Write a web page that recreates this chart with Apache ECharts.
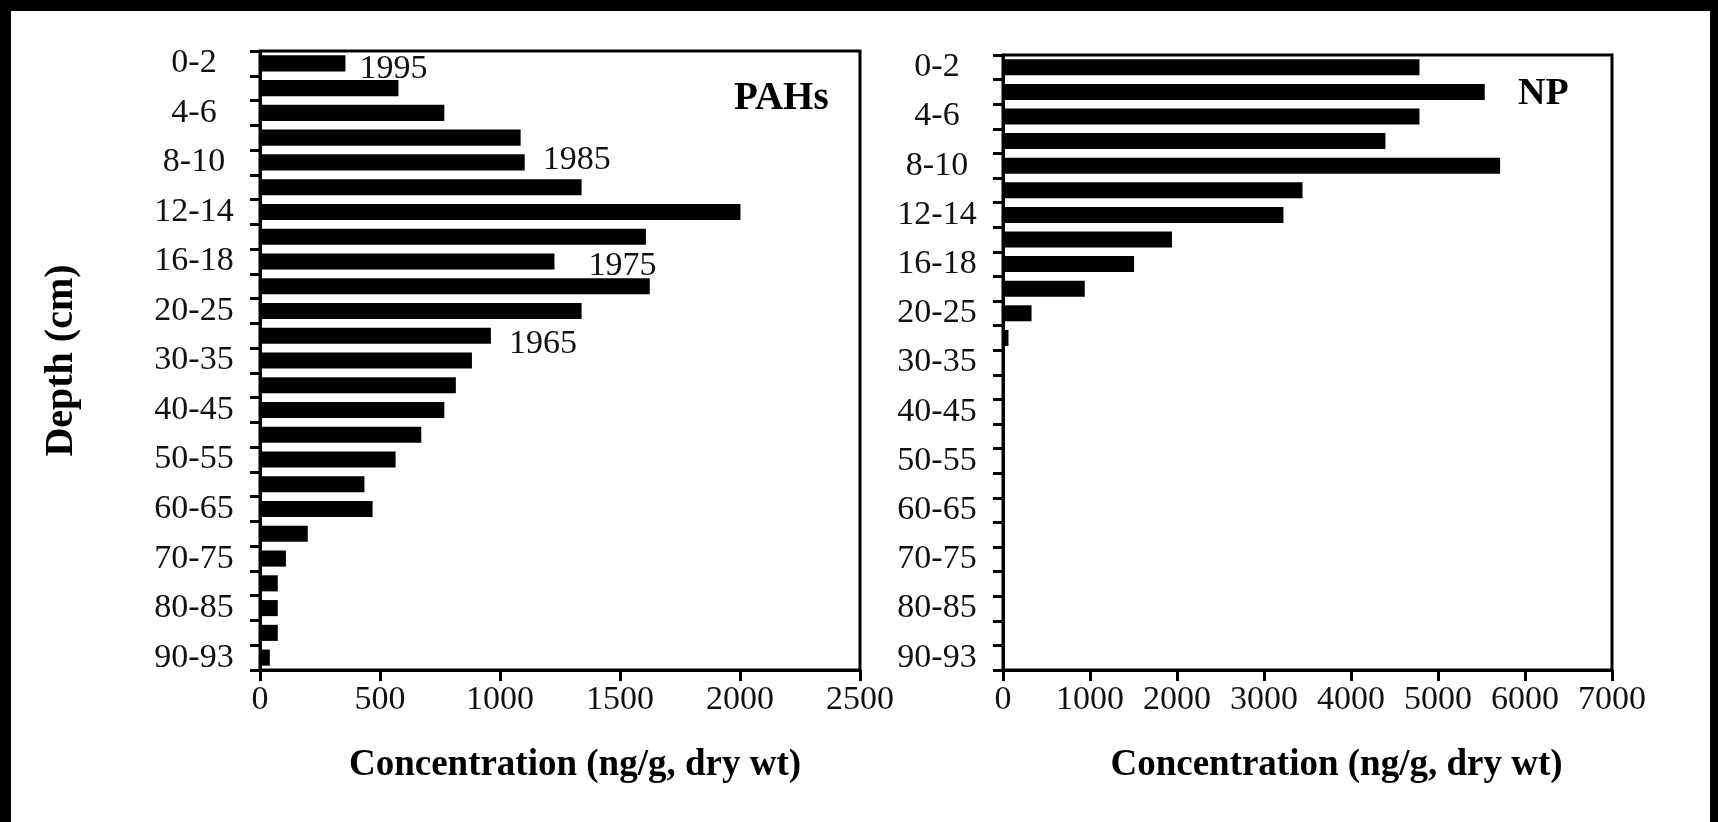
<!DOCTYPE html>
<html><head><meta charset="utf-8">
<script src="https://cdn.jsdelivr.net/npm/echarts@6/dist/echarts.min.js"></script>
<style>html,body{margin:0;padding:0;background:#fff}#c{width:1718px;height:822px}</style>
</head><body><div id="c"></div>
<script>
// Depth intervals (cm), top of core first
const depths = ['0-2','2-4','4-6','6-8','8-10','10-12','12-14','14-16','16-18','18-20','20-25','25-30','30-35','35-40','40-45','45-50','50-55','55-60','60-65','65-70','70-75','75-80','80-85','85-90','90-93'];
// PAHs concentration (ng/g, dry wt)
const pahs = [356,577,768,1086,1103,1340,2002,1608,1227,1624,1340,962,883,816,768,672,565,435,469,199,108,74,74,74,41];
// NP concentration (ng/g, dry wt)
const np = [4787,5537,4787,4396,5714,3443,3223,1942,1507,940,328,63,0,0,0,0,0,0,0,0,0,0,0,0,0];
// x-axis tick values
const pahsTicks = [0,500,1000,1500,2000,2500];
const npTicks = [0,1000,2000,3000,4000,5000,6000,7000];
// dating annotations: [depth category, year]
const years = [['0-2','1995'],['8-10','1985'],['16-18','1975'],['25-30','1965']];
const yearOffsets = [[14,6],[18,-2],[34,5],[18,8]];
// panel titles
const panelNames = ['PAHs','NP'];
const xTitle = 'Concentration (ng/g, dry wt)';
const yTitle = 'Depth (cm)';

const FONT = 'Liberation Serif';
const black = '#000';

function xAxisCfg(idx, ticks){
  return {
    type:'value', gridIndex:idx, min:ticks[0], max:ticks[ticks.length-1], interval:ticks[1]-ticks[0],
    splitLine:{show:false},
    axisLine:{show:true, lineStyle:{color:black,width:3}},
    axisTick:{show:true, inside:false, length:11, lineStyle:{color:black,width:3}},
    axisLabel:{fontSize:34, fontFamily:FONT, color:'#111', margin:13, formatter:v=>String(v)},
    name:xTitle, nameLocation:'middle', nameGap:77,
    nameTextStyle:{fontSize:37, fontWeight:'bold', fontFamily:FONT, color:black, padding:[0,0,0,idx===0?30:58]}
  };
}
function yAxisCfg(idx, withName){
  const c = {
    type:'category', gridIndex:idx, data:depths, inverse:true,
    axisLine:{show:true, lineStyle:{color:black,width:3}},
    axisTick:{show:true, interval:0, length:10, lineStyle:{color:black,width:3}},
    axisLabel:{interval:1, fontSize:34, fontFamily:FONT, color:'#111', margin:66, align:'center'},
    splitLine:{show:false}
  };
  if(withName){
    c.name = yTitle; c.nameLocation='middle'; c.nameGap=178;
    c.nameTextStyle = {fontSize:40, fontWeight:'bold', fontFamily:FONT, color:black};
  }
  return c;
}

const chart = echarts.init(document.getElementById('c'), null, {renderer:'canvas'});
const pahsIdx = years.map(y=>depths.indexOf(y[0]));
chart.setOption({
  backgroundColor:'#fff',
  animation:false,
  title:[
    {text:panelNames[0], left:729, top:74, textStyle:{fontSize:39, fontWeight:'bold', fontFamily:FONT, color:black}},
    {text:panelNames[1], left:1513, top:70, textStyle:{fontSize:38, fontWeight:'bold', fontFamily:FONT, color:black}}
  ],
  grid:[
    {left:260, top:51, width:600, height:619, show:true, borderColor:black, borderWidth:3, backgroundColor:'transparent'},
    {left:1003, top:55, width:609, height:615, show:true, borderColor:black, borderWidth:3, backgroundColor:'transparent'}
  ],
  xAxis:[xAxisCfg(0,pahsTicks), xAxisCfg(1,npTicks)],
  yAxis:[yAxisCfg(0,true), yAxisCfg(1,false)],
  series:[
    {type:'bar', xAxisIndex:0, yAxisIndex:0, data:pahs, barCategoryGap:'35%', itemStyle:{color:black},
     markPoint:{symbol:'circle', symbolSize:0,
       data: years.map((y,i)=>({coord:[pahs[pahsIdx[i]], y[0]], value:y[1],
         label:{show:true, position:'right', distance:0, offset:yearOffsets[i], formatter:y[1],
                fontSize:34, fontFamily:FONT, color:'#111'}}))}},
    {type:'bar', xAxisIndex:1, yAxisIndex:1, data:np, barCategoryGap:'35%', itemStyle:{color:black}}
  ],
  graphic:[
    {type:'rect', shape:{x:0,y:0,width:11,height:822}, style:{fill:black}, silent:true},
    {type:'rect', shape:{x:0,y:0,width:1718,height:11}, style:{fill:black}, silent:true},
    {type:'rect', shape:{x:1710,y:0,width:8,height:822}, style:{fill:black}, silent:true}
  ]
});
</script></body></html>
